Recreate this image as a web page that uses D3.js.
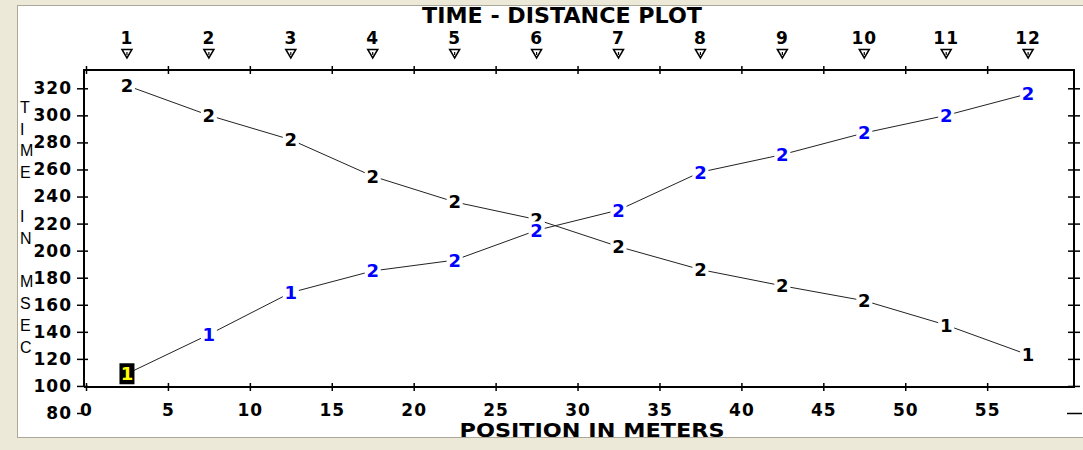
<!DOCTYPE html>
<html>
<head>
<meta charset="utf-8">
<script src="https://cdn.jsdelivr.net/npm/d3@7"></script>
<style>
  html, body { margin: 0; padding: 0; background: #ECE9D8; }
  svg { display: block; }
</style>
</head>
<body>
<div id="wrapper"></div>
<script>
// data
const positions = [2.5, 7.5, 12.5, 17.5, 22.5, 27.5, 32.5, 37.5, 42.5, 47.5, 52.5, 57.5]
const shotLabels = ["1", "2", "3", "4", "5", "6", "7", "8", "9", "10", "11", "12"]
const timesDown = [322, 300, 282, 255, 236, 223, 203, 186, 174, 163, 145, 123]
const marksDown = ["2", "2", "2", "2", "2", "2", "2", "2", "2", "2", "1", "1"]
const timesUp = [109, 138, 169, 185, 193, 215, 230, 258, 271, 287, 300, 316]
const marksUp = ["1", "1", "1", "2", "2", "2", "2", "2", "2", "2", "2", "2"]
const xTicks = [0, 5, 10, 15, 20, 25, 30, 35, 40, 45, 50, 55]
const yTicks = [80, 100, 120, 140, 160, 180, 200, 220, 240, 260, 280, 300, 320]
const yTitle = "TIME IN MSEC"

const width = 1083
const height = 450
const frame = { left: 84, right: 1074, top: 70, bottom: 387 }

const svg = d3.select("#wrapper")
  .append("svg")
  .attr("width", width)
  .attr("height", height)

// white panel
svg.append("rect")
  .attr("x", 17.5).attr("y", 5.5)
  .attr("width", width - 17).attr("height", 432)
  .attr("fill", "#fff")
  .attr("stroke", "#ACA899")

const x = d3.scaleLinear().domain([0, 60.3]).range([86, frame.right])
const y = d3.scaleLinear().domain([80, 320]).range([413, 88.3])

const boldFont = "'DejaVu Sans', sans-serif"

// frame lines
const axisLines = svg.append("g")
  .attr("stroke", "#000")
  .attr("stroke-width", 2)
  .attr("fill", "none")
axisLines.append("path")
  .attr("d", `M${frame.left},${frame.bottom}V${frame.top}H${frame.right}V${frame.bottom}H${frame.left}`)

// bottom axis
const bottomAxis = svg.append("g")
  .attr("transform", `translate(0,${frame.bottom})`)
  .call(d3.axisBottom(x).tickValues(xTicks).tickSize(4).tickPadding(13))
bottomAxis.select(".domain").remove()
bottomAxis.selectAll(".tick line").attr("y1", -4).attr("stroke-width", 1.5)
bottomAxis.selectAll(".tick text")
  .attr("font-family", boldFont).attr("font-weight", "bold")
  .attr("font-size", 17).attr("letter-spacing", 1).attr("fill", "#000")

// top axis
const topAxis = svg.append("g")
  .attr("transform", `translate(0,${frame.top})`)
  .call(d3.axisTop(x).tickValues(xTicks).tickSize(4).tickFormat(""))
topAxis.select(".domain").remove()
topAxis.selectAll(".tick line").attr("y1", 4).attr("stroke-width", 1.5)

// left axis
const leftAxis = svg.append("g")
  .attr("transform", `translate(${frame.left},0)`)
  .call(d3.axisLeft(y).tickValues(yTicks).tickSize(7).tickPadding(5))
leftAxis.select(".domain").remove()
leftAxis.selectAll(".tick line").attr("x1", 4).attr("stroke-width", 1.5)
leftAxis.selectAll(".tick").filter(d => d === 80).select("line").attr("x1", 0)
leftAxis.selectAll(".tick text")
  .attr("font-family", boldFont).attr("font-weight", "bold")
  .attr("font-size", 17).attr("letter-spacing", 1).attr("fill", "#000")

// right axis
const rightAxis = svg.append("g")
  .attr("transform", `translate(${frame.right},0)`)
  .call(d3.axisRight(y).tickValues(yTicks).tickSize(6).tickFormat(""))
rightAxis.select(".domain").remove()
rightAxis.selectAll(".tick line").attr("x1", -6).attr("stroke-width", 1.5)
rightAxis.selectAll(".tick").filter(d => d === 80).select("line").attr("x1", -7).attr("x2", 8)

// shot markers along top
const shots = svg.append("g")
  .selectAll("g")
  .data(positions)
  .join("g")
  .attr("transform", d => `translate(${x(d)},0)`)
shots.append("text")
  .attr("y", 44)
  .attr("text-anchor", "middle")
  .attr("font-family", boldFont).attr("font-weight", "bold")
  .attr("font-size", 17).attr("letter-spacing", 1)
  .text((d, i) => shotLabels[i])
shots.append("path")
  .attr("d", "M-5,49.5H5L0,58Z")
  .attr("fill", "#fff").attr("stroke", "#000").attr("stroke-width", 1.5)
shots.append("path")
  .attr("d", "M0,52V55")
  .attr("stroke", "#000").attr("stroke-width", 1.2)

// lines
const line = d3.line().x(d => x(d[0])).y(d => y(d[1]))
const downPts = positions.map((p, i) => [p, timesDown[i]])
const upPts = positions.map((p, i) => [p, timesUp[i]])
svg.append("path").attr("d", line(downPts))
  .attr("fill", "none").attr("stroke", "#222").attr("stroke-width", 1)
svg.append("path").attr("d", line(upPts))
  .attr("fill", "none").attr("stroke", "#222").attr("stroke-width", 1)

function drawMarks(pts, marks, color, highlightFirst) {
  const g = svg.append("g")
    .selectAll("g")
    .data(pts)
    .join("g")
    .attr("transform", d => `translate(${x(d[0])},${y(d[1])})`)
  g.append("rect")
    .attr("x", (d, i) => (highlightFirst && i === 0) ? -7.5 : -8)
    .attr("y", (d, i) => (highlightFirst && i === 0) ? -10.5 : -9)
    .attr("width", (d, i) => (highlightFirst && i === 0) ? 15 : 16)
    .attr("height", (d, i) => (highlightFirst && i === 0) ? 21 : 18)
    .attr("fill", (d, i) => (highlightFirst && i === 0) ? "#000" : "#fff")
  g.append("text")
    .attr("text-anchor", "middle")
    .attr("dy", "0.36em")
    .attr("font-family", boldFont).attr("font-weight", "bold")
    .attr("font-size", 18)
    .attr("fill", (d, i) => (highlightFirst && i === 0) ? "#FFFF00" : color)
    .text((d, i) => marks[i])
}
drawMarks(downPts, marksDown, "#000", false)
drawMarks(upPts, marksUp, "#0000FF", true)

// titles
svg.append("text")
  .attr("x", 562).attr("y", 23)
  .attr("text-anchor", "middle")
  .attr("font-family", boldFont).attr("font-weight", "bold")
  .attr("font-size", 21)
  .attr("textLength", 280).attr("lengthAdjust", "spacingAndGlyphs")
  .text("TIME - DISTANCE PLOT")

svg.append("text")
  .attr("x", 592).attr("y", 437)
  .attr("text-anchor", "middle")
  .attr("font-family", boldFont).attr("font-weight", "bold")
  .attr("font-size", 19)
  .attr("textLength", 265).attr("lengthAdjust", "spacingAndGlyphs")
  .text("POSITION IN METERS")

svg.append("g")
  .selectAll("text")
  .data(yTitle.split(""))
  .join("text")
  .attr("x", 20)
  .attr("y", (d, i) => 107 + i * 21.8)
  .attr("dy", "0.36em")
  .attr("font-family", "'Liberation Sans', Arial, sans-serif")
  .attr("font-size", 16)
  .text(d => d)
</script>
</body>
</html>
